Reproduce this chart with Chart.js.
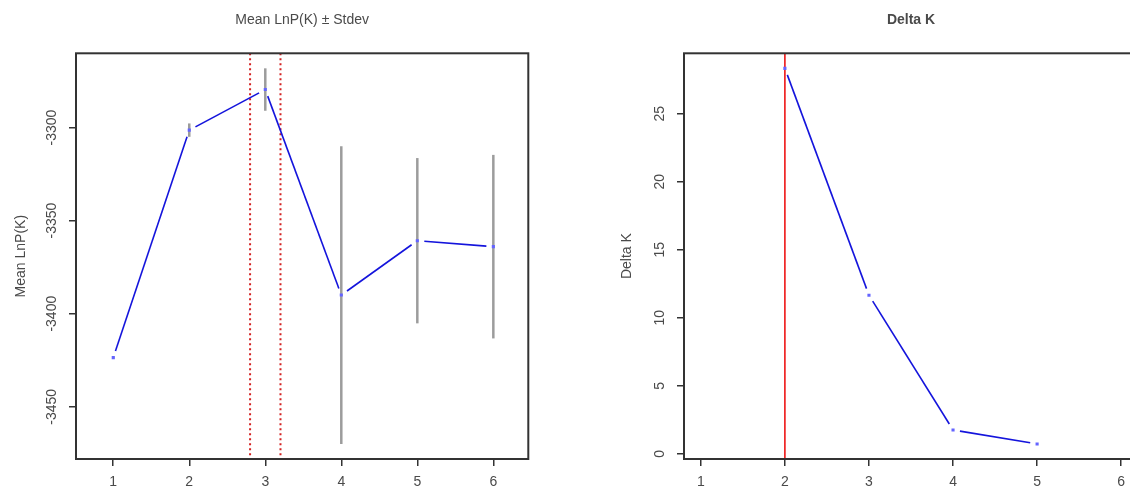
<!DOCTYPE html>
<html>
<head>
<meta charset="utf-8">
<script src="https://cdn.jsdelivr.net/npm/chart.js@4.4.1/dist/chart.umd.min.js"></script>
<style>
  html, body { margin: 0; padding: 0; background: #fff; overflow: hidden; }
  body { width: 1130px; height: 488px; position: relative; }
  #lnpChart { position: absolute; left: 0; top: 0; }
  #deltaChart { position: absolute; left: 565px; top: 0; }
</style>
</head>
<body>
<canvas id="lnpChart" width="565" height="488"></canvas>
<canvas id="deltaChart" width="600" height="488"></canvas>
<script>
// Mean LnP(K) per K, with its standard deviation
const kValues = [1, 2, 3, 4, 5, 6];
const meanLnP = [-3423.6, -3301.4, -3279.6, -3390.0, -3360.8, -3364.0];
const stdevLnP = [0.6, 3.6, 11.4, 80.0, 44.4, 49.3];

// Delta K (defined for K = 2..5)
const deltaKs = [2, 3, 4, 5];
const deltaK = [28.33, 11.66, 1.76, 0.73];

// ticks and reference lines
const xTicks = [1, 2, 3, 4, 5, 6];
const lnpTicks = [-3300, -3350, -3400, -3450];
const deltaTicks = [0, 5, 10, 15, 20, 25];
const lnpMarkers = [2.8, 3.2];
const deltaMarkers = [2];

const FONT = "'Liberation Sans', Arial, Helvetica, sans-serif";
const TEXT = '#4a4a4a';

// R style default axis range: data range widened by 4% each side
function rRange(lo, hi) {
    const pad = (hi - lo) * 0.04;
    return [lo - pad, hi + pad];
}

const rStyle = {
    id: 'rStyle',
    beforeDatasetsDraw(chart, args, opts) {
        const { ctx, chartArea: a, scales: { x, y } } = chart;
        ctx.save();

        // vertical reference lines
        ctx.strokeStyle = opts.markerColor;
        ctx.lineWidth = opts.markerWidth;
        ctx.setLineDash(opts.markerDash);
        opts.markers.forEach(v => {
            const px = x.getPixelForValue(v);
            ctx.beginPath();
            ctx.moveTo(px, a.top);
            ctx.lineTo(px, a.bottom);
            ctx.stroke();
        });
        ctx.setLineDash([]);

        // error bars
        if (opts.sd) {
            ctx.strokeStyle = '#9c9c9c';
            ctx.lineWidth = 2.5;
            opts.means.forEach((m, i) => {
                const px = x.getPixelForValue(opts.ks[i]);
                ctx.beginPath();
                ctx.moveTo(px, y.getPixelForValue(m + opts.sd[i]));
                ctx.lineTo(px, y.getPixelForValue(m - opts.sd[i]));
                ctx.stroke();
            });
        }

        // connecting lines with a gap round each point (like type = "b")
        const pts = chart.getDatasetMeta(0).data;
        const g = 7;
        ctx.strokeStyle = '#1414dc';
        ctx.lineWidth = 1.6;
        for (let i = 1; i < pts.length; i++) {
            const p0 = pts[i - 1], p1 = pts[i];
            const dx = p1.x - p0.x, dy = p1.y - p0.y;
            const len = Math.hypot(dx, dy);
            if (len <= 2 * g) continue;
            ctx.beginPath();
            ctx.moveTo(p0.x + dx * g / len, p0.y + dy * g / len);
            ctx.lineTo(p1.x - dx * g / len, p1.y - dy * g / len);
            ctx.stroke();
        }
        ctx.restore();
    },
    afterDraw(chart) {
        const { ctx, chartArea: a, scales: { y } } = chart;
        ctx.save();
        // frame
        ctx.strokeStyle = '#333';
        ctx.lineWidth = 2;
        ctx.strokeRect(a.left, a.top, a.right - a.left, a.bottom - a.top);

        // y tick labels, rotated as in R
        ctx.fillStyle = TEXT;
        ctx.font = `14px ${FONT}`;
        ctx.textAlign = 'center';
        ctx.textBaseline = 'middle';
        y.ticks.forEach(t => {
            ctx.save();
            ctx.translate(a.left - 24, y.getPixelForValue(t.value));
            ctx.rotate(-Math.PI / 2);
            ctx.fillText(String(t.value), 0, 0);
            ctx.restore();
        });
        ctx.restore();
    }
};

function tickGrid() {
    return { drawOnChartArea: false, drawTicks: true, tickLength: 7, color: '#333', lineWidth: 1.5 };
}

function makeChart(canvasId, cfg) {
    const [yMin, yMax] = cfg.yRange;
    return new Chart(document.getElementById(canvasId), {
        type: 'line',
        data: {
            datasets: [{
                data: cfg.xs.map((k, i) => ({ x: k, y: cfg.ys[i] })),
                showLine: false,
                pointStyle: 'rect',
                pointRadius: 2.2,
                pointBackgroundColor: '#6464ff',
                pointBorderWidth: 0
            }]
        },
        options: {
            responsive: false,
            animation: false,
            layout: { padding: { left: 0, right: cfg.padRight, top: 0, bottom: 0 } },
            plugins: {
                legend: { display: false },
                tooltip: { enabled: false },
                title: {
                    display: true,
                    text: cfg.title,
                    fullSize: false,
                    color: TEXT,
                    font: { size: 14, family: FONT, weight: cfg.titleWeight },
                    padding: { top: 12, bottom: 24.5 }
                },
                rStyle: cfg.style
            },
            scales: {
                x: {
                    type: 'linear',
                    min: cfg.xRange[0],
                    max: cfg.xRange[1],
                    afterBuildTicks: s => { s.ticks = xTicks.map(v => ({ value: v })); },
                    afterFit: s => { s.height = 29; },
                    ticks: {
                        color: TEXT,
                        font: { size: 14, family: FONT },
                        padding: 8,
                        maxRotation: 0,
                        autoSkip: false,
                        callback: v => String(v)
                    },
                    grid: tickGrid(),
                    border: { display: false }
                },
                y: {
                    min: yMin,
                    max: yMax,
                    afterBuildTicks: s => { s.ticks = cfg.yTicks.map(v => ({ value: v })); },
                    afterFit: s => { s.width = cfg.yWidth; },
                    ticks: { display: false },
                    grid: tickGrid(),
                    border: { display: false },
                    title: {
                        display: true,
                        text: cfg.yTitle,
                        color: TEXT,
                        font: { size: 14, family: FONT },
                        padding: { top: cfg.yTitlePad, bottom: 0 }
                    }
                }
            }
        },
        plugins: [rStyle]
    });
}

const lnpLow = Math.min(...meanLnP.map((m, i) => m - stdevLnP[i]));
const lnpHigh = Math.max(...meanLnP.map((m, i) => m + stdevLnP[i]));

makeChart('lnpChart', {
    xs: kValues,
    ys: meanLnP,
    xRange: [0.51, 6.46],
    yRange: rRange(lnpLow, lnpHigh),
    yTicks: lnpTicks,
    yWidth: 76,
    padRight: 36.7,
    yTitle: 'Mean LnP(K)',
    yTitlePad: 13,
    title: 'Mean LnP(K) \u00b1 Stdev',
    titleWeight: 'normal',
    style: {
        markers: lnpMarkers,
        markerColor: '#d42222',
        markerWidth: 2,
        markerDash: [2, 3],
        ks: kValues,
        means: meanLnP,
        sd: stdevLnP
    }
});

makeChart('deltaChart', {
    xs: deltaKs,
    ys: deltaK,
    xRange: rRange(1, 6),
    yRange: rRange(Math.min(...deltaK), Math.max(...deltaK)),
    yTicks: deltaTicks,
    yWidth: 119,
    padRight: 27,
    yTitle: 'Delta K',
    yTitlePad: 53.6,
    title: 'Delta K',
    titleWeight: 'bold',
    style: {
        markers: deltaMarkers,
        markerColor: '#ee1515',
        markerWidth: 1.6,
        markerDash: [],
        sd: null
    }
});
</script>
</body>
</html>
